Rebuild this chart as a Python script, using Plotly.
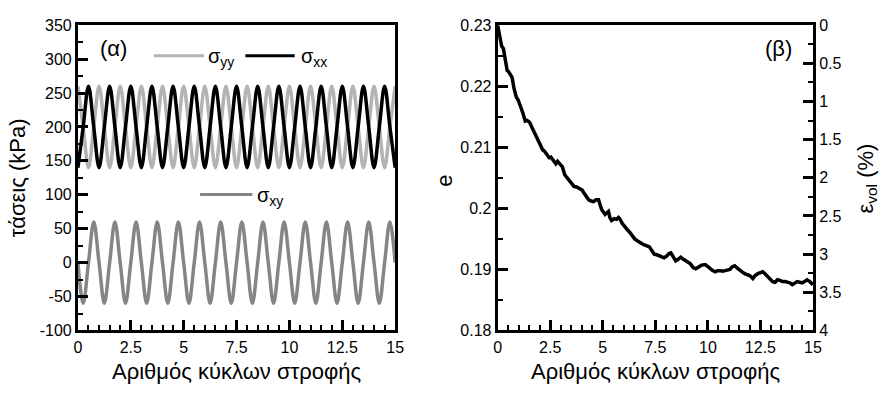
import plotly.graph_objects as go

# ---------------- data ----------------
cycles = [i * 0.25 for i in range(61)]  # 0 .. 15 in quarter cycles

sigma_yy = [260, 200, 140, 200] * 15 + [260]
sigma_xx = [140, 200, 260, 200] * 15 + [140]
sigma_xy = [0, -60, 0, 60] * 15 + [0]

e_cycles = [0.00, 0.05, 0.11, 0.19, 0.27, 0.31, 0.38, 0.45, 0.52, 0.58, 0.65, 0.69, 0.78, 0.89, 0.97,
            1.05, 1.12, 1.20, 1.31, 1.40, 1.52, 1.60, 1.67, 1.83, 1.98, 2.06, 2.14, 2.22, 2.30, 2.45,
            2.53, 2.61, 2.70, 2.77, 2.85, 2.92, 3.00, 3.08, 3.19, 3.30, 3.39, 3.50, 3.63, 3.75, 3.86,
            4.02, 4.09, 4.20, 4.33, 4.45, 4.56, 4.68, 4.80, 4.88, 4.95, 5.11, 5.20, 5.27, 5.34, 5.42,
            5.55, 5.66, 5.75, 5.81, 5.93, 6.05, 6.17, 6.28, 6.40, 6.52, 6.64, 6.75, 6.87, 6.98, 7.10,
            7.22, 7.35, 7.45, 7.57, 7.69, 7.80, 7.92, 8.05, 8.15, 8.24, 8.35, 8.47, 8.60, 8.71, 8.82,
            8.94, 9.05, 9.17, 9.30, 9.42, 9.56, 9.70, 9.88, 10.00, 10.11, 10.23, 10.35, 10.47, 10.58,
            10.70, 10.82, 10.93, 11.05, 11.15, 11.28, 11.40, 11.52, 11.63, 11.75, 11.87, 11.99, 12.14,
            12.25, 12.38, 12.50, 12.61, 12.72, 12.85, 12.97, 13.08, 13.20, 13.31, 13.43, 13.55, 13.67,
            13.78, 13.90, 14.02, 14.12, 14.25, 14.37, 14.49, 14.60, 14.72, 14.85, 14.95, 15.00]
e_values = [0.2300, 0.2290, 0.2281, 0.2266, 0.2262, 0.2255, 0.2245, 0.2226, 0.2224, 0.2221, 0.2218, 0.2214,
            0.2196, 0.2182, 0.2178, 0.2172, 0.2164, 0.2156, 0.2143, 0.2144, 0.2141, 0.2135, 0.2130, 0.2118,
            0.2108, 0.2100, 0.2096, 0.2094, 0.2090, 0.2083, 0.2084, 0.2080, 0.2075, 0.2073, 0.2077, 0.2074,
            0.2072, 0.2068, 0.2055, 0.2050, 0.2047, 0.2043, 0.2036, 0.2035, 0.2033, 0.2030, 0.2026, 0.2020,
            0.2014, 0.2012, 0.2011, 0.2014, 0.2014, 0.2005, 0.1998, 0.1990, 0.1994, 0.1995, 0.1985, 0.1980,
            0.1983, 0.1982, 0.1985, 0.1983, 0.1975, 0.1969, 0.1965, 0.1961, 0.1955, 0.1950, 0.1947, 0.1944,
            0.1942, 0.1940, 0.1939, 0.1937, 0.1930, 0.1925, 0.1924, 0.1922, 0.1920, 0.1919, 0.1922, 0.1926,
            0.1927, 0.1920, 0.1914, 0.1917, 0.1920, 0.1917, 0.1914, 0.1912, 0.1909, 0.1903, 0.1901, 0.1904,
            0.1907, 0.1908, 0.1904, 0.1900, 0.1898, 0.1896, 0.1898, 0.1898, 0.1897, 0.1898, 0.1899, 0.1900,
            0.1904, 0.1906, 0.1902, 0.1898, 0.1896, 0.1893, 0.1892, 0.1890, 0.1885, 0.1890, 0.1893, 0.1895,
            0.1896, 0.1893, 0.1888, 0.1884, 0.1880, 0.1879, 0.1883, 0.1882, 0.1880, 0.1880, 0.1879, 0.1878,
            0.1875, 0.1877, 0.1880, 0.1879, 0.1878, 0.1880, 0.1883, 0.1880, 0.1876, 0.1875]

x_tickvals = [0, 2.5, 5, 7.5, 10, 12.5, 15]
x_ticktext = ["0", "2.5", "5", "7.5", "10", "12.5", "15"]
stress_tickvals = [-100, -50, 0, 50, 100, 150, 200, 250, 300, 350]
stress_ticktext = ["-100", "-50", "0", "50", "100", "150", "200", "250", "300", "350"]
e_tickvals = [0.18, 0.19, 0.20, 0.21, 0.22, 0.23]
e_ticktext = ["0.18", "0.19", "0.2", "0.21", "0.22", "0.23"]
vol_tickvals = [0, 0.5, 1, 1.5, 2, 2.5, 3, 3.5, 4]
vol_ticktext = ["0", "0.5", "1", "1.5", "2", "2.5", "3", "3.5", "4"]

# ---------------- figure ----------------
W, H = 887, 394
FONT = "Liberation Sans, Arial, sans-serif"
LIGHT = "#b3b3b3"
MID = "#858585"


def px(x):
    return x / W


def py(y):
    return 1 - y / H


fig = go.Figure()

fig.add_trace(go.Scatter(x=cycles, y=sigma_yy, mode="lines", line=dict(color=LIGHT, width=3.5, shape="spline"),
                         xaxis="x", yaxis="y", showlegend=False, name="σyy"))
fig.add_trace(go.Scatter(x=cycles, y=sigma_xx, mode="lines", line=dict(color="black", width=3.5, shape="spline"),
                         xaxis="x", yaxis="y", showlegend=False, name="σxx"))
fig.add_trace(go.Scatter(x=cycles, y=sigma_xy, mode="lines", line=dict(color=MID, width=3.5, shape="spline"),
                         xaxis="x", yaxis="y", showlegend=False, name="σxy"))
fig.add_trace(go.Scatter(x=e_cycles, y=e_values, mode="lines", line=dict(color="black", width=3.5),
                         xaxis="x2", yaxis="y2", showlegend=False, name="e"))
# invisible trace so the secondary (volumetric strain) axis is rendered
fig.add_trace(go.Scatter(x=[0], y=[0], mode="markers", marker=dict(opacity=0), hoverinfo="skip",
                         xaxis="x2", yaxis="y3", showlegend=False))

tickfont = dict(family=FONT, size=16, color="black")
common = dict(showline=True, linewidth=3, linecolor="black", ticks="inside", tickwidth=2.5, ticklen=10,
              tickcolor="black", showgrid=False, zeroline=False, tickfont=tickfont, tickmode="array")

ydom = [py(337), py(18)]
fig.update_layout(
    width=W, height=H,
    margin=dict(l=0, r=0, t=0, b=0),
    paper_bgcolor="white", plot_bgcolor="white",
    font=dict(family=FONT, color="black"),
    xaxis=dict(domain=[px(75), px(397)], range=[0, 15], anchor="y", mirror=True,
               tickvals=x_tickvals, ticktext=x_ticktext,
               minor=dict(dtick=0.5, tick0=0, ticklen=5, tickwidth=2, tickcolor="black", ticks="inside"),
               **common),
    yaxis=dict(domain=ydom, range=[-100, 350], anchor="x", mirror=True,
               tickvals=stress_tickvals, ticktext=stress_ticktext,
               minor=dict(dtick=25, tick0=0, ticklen=5, tickwidth=2, tickcolor="black", ticks="inside"),
               **common),
    xaxis2=dict(domain=[px(501), px(821)], range=[0, 15], anchor="y2", mirror=True,
                tickvals=x_tickvals, ticktext=x_ticktext,
                minor=dict(dtick=0.5, tick0=0, ticklen=5, tickwidth=2, tickcolor="black", ticks="inside"),
                **common),
    yaxis2=dict(domain=ydom, range=[0.18, 0.23], anchor="x2",
                tickvals=e_tickvals, ticktext=e_ticktext,
                minor=dict(dtick=0.005, tick0=0.18, ticklen=5, tickwidth=2, tickcolor="black", ticks="inside"),
                **common),
    yaxis3=dict(range=[4, 0], anchor="x2", overlaying="y2", side="right",
                tickvals=vol_tickvals, ticktext=vol_ticktext,
                minor=dict(dtick=0.25, tick0=0, ticklen=5, tickwidth=2, tickcolor="black", ticks="inside"),
                **common),
)

title_font = dict(family=FONT, size=22, color="black")
ann = [
    dict(x=px(14), y=py(177), text="τάσεις (kPa)", textangle=-90, font=title_font),
    dict(x=px(236), y=py(380), text="Αριθμός κύκλων στροφής", font=title_font),
    dict(x=px(661), y=py(380), text="Αριθμός κύκλων στροφής", font=title_font),
    dict(x=px(447), y=py(180), text="e", textangle=-90, font=title_font),
    dict(x=px(876), y=py(178), text="ε<sub>vol</sub> (%)", textangle=-90, font=title_font),
    dict(x=px(111), y=py(42), text="(α)", font=title_font),
    dict(x=px(786), y=py(42), text="(β)", font=title_font),
    dict(x=px(205), y=py(52), text="σ<sub>yy</sub>", xanchor="left", font=dict(family=FONT, size=20)),
    dict(x=px(299), y=py(52), text="σ<sub>xx</sub>", xanchor="left", font=dict(family=FONT, size=20)),
    dict(x=px(255), y=py(197), text="σ<sub>xy</sub>", xanchor="left", font=dict(family=FONT, size=20)),
]
for a in ann:
    a.setdefault("xanchor", "center")
    fig.add_annotation(xref="paper", yref="paper", yanchor="middle", showarrow=False, **a)

legend_lines = [
    (152, 203, 50, LIGHT),
    (245, 295, 50, "black"),
    (199, 252, 195, MID),
]
for x0, x1, yy, c in legend_lines:
    fig.add_shape(type="line", xref="paper", yref="paper", x0=px(x0), x1=px(x1), y0=py(yy), y1=py(yy),
                  line=dict(color=c, width=3))

fig.write_html("out.html")
